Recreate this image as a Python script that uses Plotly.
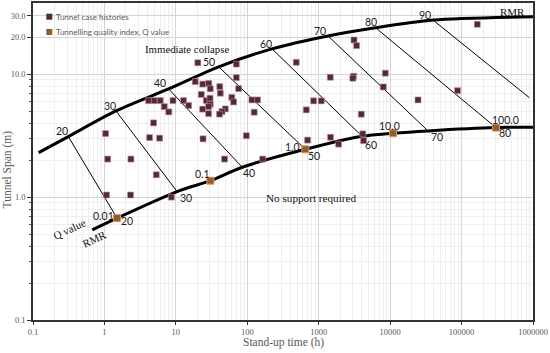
import math
import plotly.graph_objects as go

# ---------------- data ----------------
case_time = [1.04, 1.11, 2.35, 1.07, 2.32, 5.32, 8.64, 4.15, 4.99, 6.05, 6.89, 7.96, 9.12, 12.8,
             15.1, 4.88, 4.29, 5.92, 20.3, 70.2, 70.2, 18.7, 23.8, 28.9, 30.3, 41.2, 75.6, 22.7,
             26.7, 30.1, 30.3, 23.7, 28.7, 41.9, 60.7, 64.3, 49.2, 44.3, 40.9, 116, 139, 125,
             24.0, 96.9, 48.0, 164, 485, 848, 1086, 670, 699, 1462, 1897, 1452, 3119, 3390,
             3077, 3000, 8551, 8017, 3946, 4140, 4250, 24550, 87900, 166000, 28.7]
case_span = [3.29, 2.04, 2.04, 1.04, 1.04, 1.52, 1.00, 6.10, 6.10, 6.10, 5.45, 4.94, 6.10, 6.10,
             5.56, 4.02, 3.05, 3.02, 12.4, 12.1, 9.39, 8.71, 8.31, 8.42, 7.62, 7.93, 7.64, 6.85,
             6.12, 6.38, 5.70, 5.20, 4.78, 7.01, 6.48, 5.95, 5.22, 4.97, 4.74, 6.18, 6.18, 4.91,
             2.98, 3.16, 2.04, 2.04, 12.5, 6.07, 6.07, 5.13, 2.91, 3.07, 2.70, 9.45, 19.0, 17.1,
             9.63, 9.28, 10.2, 7.88, 4.73, 3.27, 2.88, 6.18, 7.35, 25.5, 5.45]

q_labels = ["0.01", "0.1", "1.0", "10.0", "100.0"]
q_time = [1.50, 30.4, 649, 10960, 303000]
q_span = [0.675, 1.36, 2.45, 3.31, 3.68]

rmr_labels = ["20", "30", "40", "50", "60", "70", "80", "90"]
rmr_upper_time = [0.312, 1.45, 7.91, 39.7, 222, 1349, 6252, 39800]
rmr_upper_span = [3.11, 5.03, 7.60, 11.5, 16.1, 20.5, 23.9, 27.6]
rmr_lower_time = [1.50, 10.4, 85.1, 649, 4036, 33900, 303000, 887000]
rmr_lower_span = [0.675, 1.11, 1.75, 2.45, 3.13, 3.46, 3.68, 6.45]

upper_time = [0.12, 0.312, 1.45, 7.91, 39.7, 222, 1349, 6252, 39800, 1e6]
upper_span = [2.30, 3.11, 5.03, 7.60, 11.5, 16.1, 20.5, 23.9, 27.6, 29.4]
lower_time = [0.676, 1.50, 10.4, 30.4, 85.1, 649, 4036, 10960, 33900, 303000, 1e6]
lower_span = [0.542, 0.675, 1.11, 1.36, 1.75, 2.45, 3.13, 3.31, 3.46, 3.68, 3.71]

x_tick_vals = [0.1, 1, 10, 100, 1000, 10000, 100000, 1000000]
x_tick_text = ["0.1", "1", "10", "100", "1000", "10000", "100000", "1000000"]
y_tick_vals = [0.1, 1, 10, 20, 30]
y_tick_text = ["0.1", "1.0", "10.0", "20.0", "30.0"]

legend_names = ["Tunnel case histories", "Tunnelling quality index, Q value"]

# ---------------- figure ----------------
SERIF = "Liberation Serif"
SANS = "Lato"
GREY = "#595959"
CASE_COLOR = "#4f2a3c"
Q_COLOR = "#8f5e30"

fig = go.Figure()

# diagonal RMR lines
dx, dy = [], []
for t1, s1, t2, s2 in zip(rmr_upper_time, rmr_upper_span, rmr_lower_time, rmr_lower_span):
    dx += [t1, t2, None]
    dy += [s1, s2, None]
fig.add_trace(go.Scatter(x=dx, y=dy, mode="lines", line=dict(color="black", width=1),
                         showlegend=False, hoverinfo="skip"))

# boundary curves
fig.add_trace(go.Scatter(x=upper_time, y=upper_span, mode="lines",
                         line=dict(color="black", width=3, shape="spline", smoothing=0.8),
                         showlegend=False, hoverinfo="skip"))
fig.add_trace(go.Scatter(x=lower_time, y=lower_span, mode="lines",
                         line=dict(color="black", width=3, shape="spline", smoothing=0.8),
                         showlegend=False, hoverinfo="skip"))

fig.add_trace(go.Scatter(x=case_time, y=case_span, mode="markers", name=legend_names[0],
                         showlegend=False,
                         marker=dict(symbol="square", size=6, color=CASE_COLOR,
                                     line=dict(color="#c98aa0", width=0.6))))
fig.add_trace(go.Scatter(x=q_time, y=q_span, mode="markers", name=legend_names[1],
                         showlegend=False,
                         marker=dict(symbol="square", size=7, color=Q_COLOR,
                                     line=dict(color="#d9955a", width=1))))

ann = []
lab_font = dict(family=SANS, size=10.5, color="#1a1a1a")
# upper RMR labels
up_shift = [(-6, 6), (-6, 5), (-9, 6), (-10, 5), (-6, 5), (-8, 5), (-5, 6), (-8, 5)]
for lab, t, s, (xs, ys) in zip(rmr_labels, rmr_upper_time, rmr_upper_span, up_shift):
    ann.append(dict(x=math.log10(t), y=math.log10(s), text=lab, showarrow=False,
                    xshift=xs, yshift=ys, font=lab_font))
# lower RMR labels
lo_shift = [(10, -3), (9, -6), (7, -6), (9, -7), (9, -9), (9, -6), (9, -5)]
for lab, t, s, (xs, ys) in zip(rmr_labels[:-1], rmr_lower_time, rmr_lower_span, lo_shift):
    ann.append(dict(x=math.log10(t), y=math.log10(s), text=lab, showarrow=False,
                    xshift=xs, yshift=ys, font=lab_font))
# Q labels
q_shift = [(-14, 2), (-8, 7), (-13, 2), (-3, 7), (10, 8)]
for lab, t, s, (xs, ys) in zip(q_labels, q_time, q_span, q_shift):
    ann.append(dict(x=math.log10(t), y=math.log10(s), text=lab, showarrow=False,
                    xshift=xs, yshift=ys, font=lab_font))


def paper_text(x, y, text, size, color="#111", angle=0, anchor="center", family=SERIF):
    return dict(x=x, y=y, xref="paper", yref="paper", text=text, showarrow=False,
                textangle=angle, xanchor=anchor, yanchor="middle",
                font=dict(family=family, size=size, color=color))


ann += [
    paper_text(0.308, 0.8535, "Immediate collapse", 10.8),
    paper_text(0.5566, 0.3864, "No support required", 11.2),
    paper_text(0.958, 0.9726, "RMR", 11),
    paper_text(0.0732, 0.2877, "Q value", 11, angle=-25),
    paper_text(0.123, 0.2553, "RMR", 11, angle=-25),
    paper_text(-0.0505, 0.474, "Tunnel Span (m)", 11.5, color=GREY, angle=-90),
    paper_text(0.5, -0.072, "Stand-up time (h)", 11.5, color=GREY),
    # legend texts
    paper_text(0.0426, 0.9568, legend_names[0], 8, color=GREY, anchor="left", family=SANS),
    paper_text(0.0426, 0.9086, legend_names[1], 8, color=GREY, anchor="left", family=SANS),
]

# legend swatches
shapes = []
for yc, col in [(0.9568, CASE_COLOR), (0.9086, Q_COLOR)]:
    shapes.append(dict(type="rect", xref="paper", yref="paper",
                       x0=0.0326 - 0.006, x1=0.0326 + 0.006,
                       y0=yc - 0.0095, y1=yc + 0.0095,
                       fillcolor=col, line=dict(width=0)))

minor_x = [m * 10 ** e for e in range(-1, 6) for m in range(2, 10)]
minor_y = [m * 10 ** e for e in range(-1, 1) for m in range(2, 10)] + [20, 30]

fig.update_layout(
    width=550, height=353,
    margin=dict(l=33, r=17, t=3, b=33, autoexpand=False),
    paper_bgcolor="white", plot_bgcolor="white",
    annotations=ann, shapes=shapes, showlegend=False,
    xaxis=dict(type="log", range=[-1, 6], tickvals=x_tick_vals, ticktext=x_tick_text,
               showgrid=True, gridcolor="#d4d4d4", gridwidth=1,
               showline=True, linecolor="#333", linewidth=1.5, mirror=True,
               ticks="outside", ticklen=3, tickcolor="#333",
               tickfont=dict(family=SERIF, size=8.5, color=GREY),
               minor=dict(tickvals=minor_x, showgrid=True, gridcolor="#eeeeee", ticks=""),
               zeroline=False),
    yaxis=dict(type="log", range=[-1, math.log10(38)], tickvals=y_tick_vals, ticktext=y_tick_text,
               showgrid=True, gridcolor="#d4d4d4", gridwidth=1,
               showline=True, linecolor="#333", linewidth=1.5, mirror=True,
               ticks="outside", ticklen=4, tickcolor="#333",
               tickfont=dict(family=SERIF, size=8.5, color=GREY),
               minor=dict(tickvals=minor_y, showgrid=True, gridcolor="#eeeeee",
                          ticks="outside", ticklen=2, tickcolor="#555"),
               zeroline=False),
)

fig.write_html("out.html", config={"displayModeBar": False},
               post_script="document.body.style.margin='0';document.body.style.overflow='hidden';")
